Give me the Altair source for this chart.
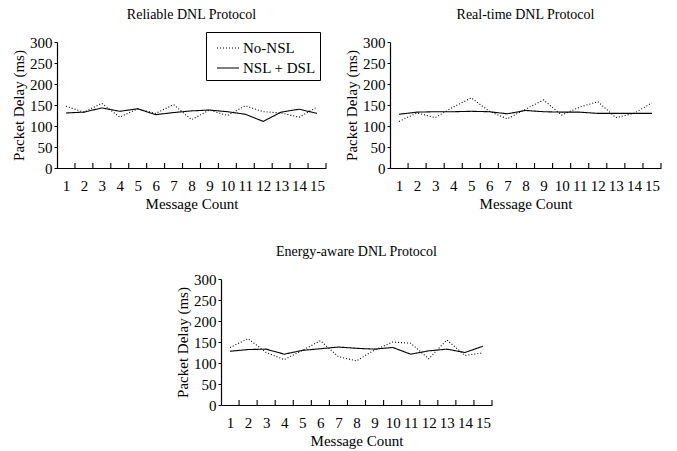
import altair as alt
import pandas as pd

counts = list(range(1, 16))
series_names = ["No-NSL", "NSL + DSL"]

reliable_no_nsl = [147, 133, 154, 121, 141, 130, 151, 115, 138, 125, 148, 134, 131, 121, 145]
reliable_nsl_dsl = [131, 133, 143, 135, 141, 127, 132, 136, 138, 134, 128, 111, 133, 140, 130]

realtime_no_nsl = [111, 131, 120, 145, 167, 135, 117, 140, 162, 126, 145, 158, 120, 130, 155]
realtime_nsl_dsl = [128, 133, 134, 134, 135, 134, 129, 137, 134, 133, 133, 130, 130, 130, 130]

energy_no_nsl = [137, 158, 125, 108, 130, 153, 115, 105, 131, 150, 147, 110, 155, 118, 124]
energy_nsl_dsl = [128, 132, 133, 121, 130, 134, 138, 135, 133, 137, 121, 129, 133, 125, 140]

titles = ["Reliable DNL Protocol", "Real-time DNL Protocol", "Energy-aware DNL Protocol"]
y_ticks = [0, 50, 100, 150, 200, 250, 300]

FONT = "Liberation Serif"
H = 126


def panel(title, no_nsl, nsl_dsl, width, legend_x, legend_y):
    df = pd.DataFrame({
        "count": counts * 2,
        "delay": no_nsl + nsl_dsl,
        "series": [series_names[0]] * len(counts) + [series_names[1]] * len(counts),
    })
    bounds = pd.DataFrame({"b": [c + 0.5 for c in counts]})
    xscale = alt.Scale(domain=[0.5, 15.5], nice=False, zero=False)
    yscale = alt.Scale(domain=[0, 300], nice=False)
    x_axis = alt.Axis(values=counts, tickSize=0, labelPadding=10, title="Message Count",
                      titlePadding=3, grid=False, domainColor="black",
                      labelFlush=False, labelOverlap=False, labelFont=FONT, titleFont=FONT)
    y_axis = alt.Axis(values=y_ticks, tickSize=3, tickColor="black", labelPadding=2,
                      title="Packet Delay (ms)", titlePadding=3, grid=False,
                      domainColor="black", labelOverlap=False, labelFont=FONT, titleFont=FONT)
    lines = alt.Chart(df).mark_line(color="black", strokeWidth=1.1).encode(
        x=alt.X("count:Q", scale=xscale, axis=x_axis, title="Message Count"),
        y=alt.Y("delay:Q", scale=yscale, axis=y_axis, title="Packet Delay (ms)"),
        strokeDash=alt.StrokeDash("series:N",
                                  scale=alt.Scale(domain=series_names, range=[[1, 2], [1, 0]]),
                                  legend=alt.Legend(title=None, orient="none", legendX=legend_x,
                                                    legendY=legend_y, fillColor="white",
                                                    strokeColor="black", padding=4,
                                                    symbolType="stroke", symbolSize=484,
                                                    symbolOffset=6,
                                                    symbolStrokeWidth=1.2, symbolStrokeColor="black",
                                                    labelFont=FONT, labelFontSize=15,
                                                    labelColor="black", rowPadding=-7,
                                                    labelOffset=3)),
    )
    ticks = alt.Chart(bounds).transform_calculate(lo="0", hi="12").mark_rule(
        color="black", strokeWidth=1.1
    ).encode(
        x=alt.X("b:Q", scale=xscale, axis=x_axis, title="Message Count"),
        y=alt.Y("lo:Q", scale=yscale, axis=y_axis, title="Packet Delay (ms)"),
        y2=alt.Y2("hi:Q"),
    )
    return alt.layer(lines, ticks).properties(
        width=width, height=H,
        title=alt.TitleParams(title, font=FONT, fontSize=14, fontWeight="normal",
                              color="black", offset=13),
    )


p1 = panel(titles[0], reliable_no_nsl, reliable_nsl_dsl, 269, 149, -10)
p2 = panel(titles[1], realtime_no_nsl, realtime_nsl_dsl, 271, 149, -10)
p3 = panel(titles[2], energy_no_nsl, energy_nsl_dsl, 271, 144, -6)

spacer = alt.Chart(pd.DataFrame({"v": [0]})).mark_point(opacity=0).encode(
    x=alt.value(0), y=alt.value(0)
).properties(width=118, height=H)

chart = alt.vconcat(
    alt.hconcat(p1, p2, spacing=17),
    alt.hconcat(spacer, p3, spacing=0),
    spacing=34,
).configure(font=FONT).configure_view(stroke=None).configure_axis(
    labelFont=FONT, labelFontSize=15, labelColor="black",
    titleFont=FONT, titleFontSize=15, titleFontWeight="normal", titleColor="black",
    domainWidth=1.2,
).properties(padding={"left": 3, "top": 0, "right": 2, "bottom": 2})

chart.save("out.html", embed_options={"renderer": "svg", "actions": False})
